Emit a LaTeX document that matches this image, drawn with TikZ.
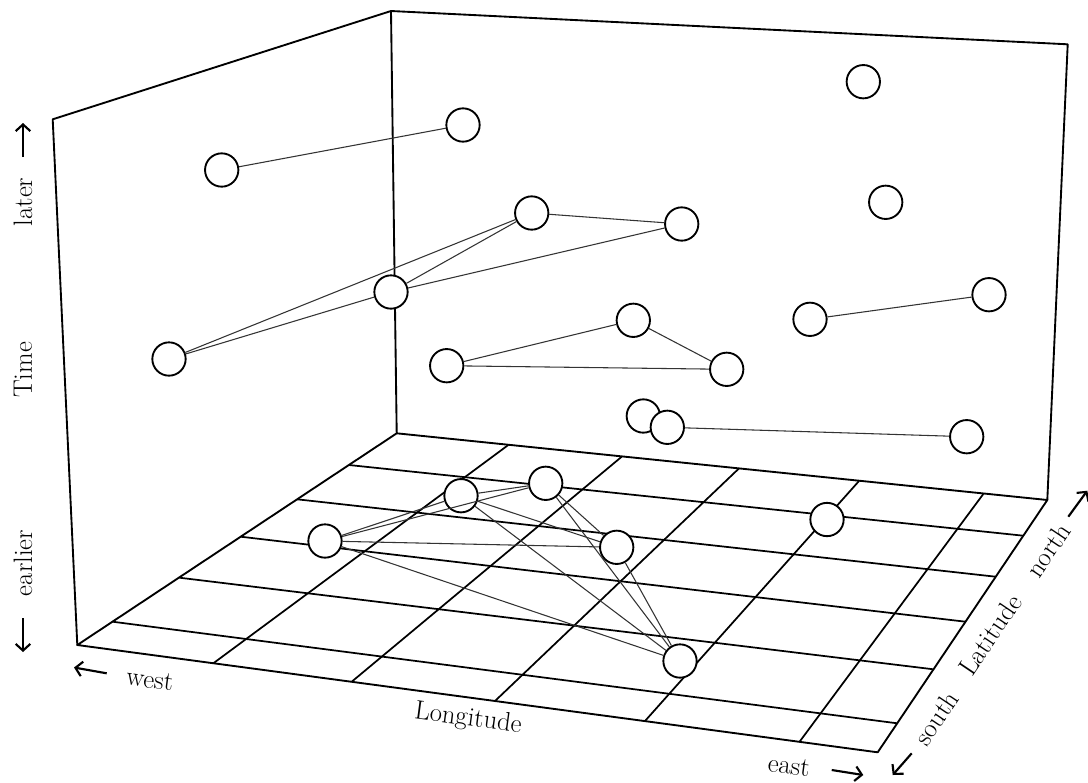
\documentclass[tikz,border=0pt]{standalone}
\usepackage{fontspec}
\usetikzlibrary{arrows.meta}
\begin{document}
\begin{tikzpicture}[x=0.75pt,y=-0.75pt,
  frame/.style={line width=1.4pt, line join=round, line cap=round},
  gridline/.style={line width=1.3pt},
  pt/.style={circle, draw, line width=1.4pt, fill=white, minimum size=25pt, inner sep=0pt},
  link/.style={line width=0.8pt, draw=black!80},
  lab/.style={font=\fontsize{20}{24}\selectfont, inner sep=0pt},
  dirarrow/.style={line width=1.6pt, -{Straight Barb[length=5pt,width=11pt]}}
]
\useasboundingbox (0,0) rectangle (1088,782);

% box corners
\coordinate (A) at (52.7,119.3);
\coordinate (B) at (77.3,645);
\coordinate (C) at (391,11);
\coordinate (D) at (396.7,433.3);
\coordinate (E) at (1067.7,44.3);
\coordinate (F) at (1047.3,500);
\coordinate (G) at (877.7,752.3);

% floor grid
\draw[gridline] (508.3,445) -- (213.3,663.3);
\draw[gridline] (621.7,456.7) -- (351.7,681.7);
\draw[gridline] (739,468.4) -- (495,701);
\draw[gridline] (859,481) -- (645,721);
\draw[gridline] (983.3,494) -- (799.5,741.8);
\draw[gridline] (348.9,465) -- (1023.3,535.7);
\draw[gridline] (297.1,499.3) -- (995.7,576.7);
\draw[gridline] (240.8,536.7) -- (965.5,621.7);
\draw[gridline] (179.5,577.7) -- (933.5,669.3);
\draw[gridline] (112.6,621.7) -- (897.2,723.3);

% frame
\draw[frame] (B) -- (A) -- (C) -- (E) -- (F);
\draw[frame] (C) -- (D) -- (F) -- (G) -- (B) -- (D);

% back wall nodes
\node[pt] (t1) at (221.7,170) {};
\node[pt] (t2) at (463,125) {};
\node[pt] (t3) at (169,359) {};
\node[pt] (t4) at (391,292) {};
\node[pt] (t5) at (531.7,213) {};
\node[pt] (t6) at (681.7,224) {};
\node[pt] (t7) at (863.3,81.7) {};
\node[pt] (t8) at (885.7,202.3) {};
\node[pt] (t9) at (633.3,320.3) {};
\node[pt] (t10) at (446.7,365.7) {};
\node[pt] (t11) at (726.7,369.3) {};
\node[pt] (t12) at (810,319.3) {};
\node[pt] (t13) at (989,294.7) {};
\node[pt] (t14) at (643.3,416) {};
\node[pt] (t15) at (667.3,427.3) {};
\node[pt] (t16) at (966.7,436.7) {};

% floor nodes
\node[pt] (f1) at (325,541) {};
\node[pt] (f2) at (461,495.7) {};
\node[pt] (f3) at (545.7,483.3) {};
\node[pt] (f4) at (616.7,547.3) {};
\node[pt] (f5) at (680,661) {};
\node[pt] (f6) at (827,519.5) {};

% back wall links
\draw[link] (t1) -- (t2);
\draw[link] (t3) -- (t4);
\draw[link] (t3) -- (t5);
\draw[link] (t4) -- (t5);
\draw[link] (t4) -- (t6);
\draw[link] (t5) -- (t6);
\draw[link] (t10) -- (t9);
\draw[link] (t10) -- (t11);
\draw[link] (t9) -- (t11);
\draw[link] (t15) -- (t16);
\draw[link] (t12) -- (t13);

% floor links
\draw[link] (f1) -- (f2);
\draw[link] (f1) -- (f3);
\draw[link] (f1) -- (f4);
\draw[link] (f1) -- (f5);
\draw[link] (f2) -- (f3);
\draw[link] (f2) -- (f4);
\draw[link] (f2) -- (f5);
\draw[link] (f3) -- (f4);
\draw[link] (f3) -- (f5);
\draw[link] (f4) -- (f5);

% axis labels
\node[lab, rotate=90] (later) at (23,202) {later};
\node[lab, rotate=90] (time) at (23,370) {Time};
\node[lab, rotate=90] (earlier) at (23,563) {earlier};
\coordinate (upS) at (23,157);
\coordinate (upE) at (23,123);
\coordinate (dnS) at (23,618);
\coordinate (dnE) at (23,652);
\draw[dirarrow] (upS) -- (upE);
\draw[dirarrow] (dnS) -- (dnE);

\node[lab, rotate=-7.6] (west) at (150,680) {west};
\node[lab, rotate=-7.6] (lon) at (468,719) {Longitude};
\node[lab, rotate=-7.6] (east) at (789,766) {east};
\coordinate (wS) at (106.7,673.3);
\coordinate (wE) at (74,667.5);
\coordinate (eS) at (831.7,770);
\coordinate (eE) at (863.3,775);
\draw[dirarrow] (wS) -- (wE);
\draw[dirarrow] (eS) -- (eE);

\node[lab, rotate=56] (south) at (936,718) {south};
\node[lab, rotate=56] (lat) at (990,635) {Latitude};
\node[lab, rotate=56] (north) at (1048,550) {north};
\coordinate (sS) at (911.7,753.3);
\coordinate (sE) at (892.7,775);
\coordinate (nS) at (1068.3,516.7);
\coordinate (nE) at (1087.3,490.7);
\draw[dirarrow] (sS) -- (sE);
\draw[dirarrow] (nS) -- (nE);
\end{tikzpicture}
\end{document}
